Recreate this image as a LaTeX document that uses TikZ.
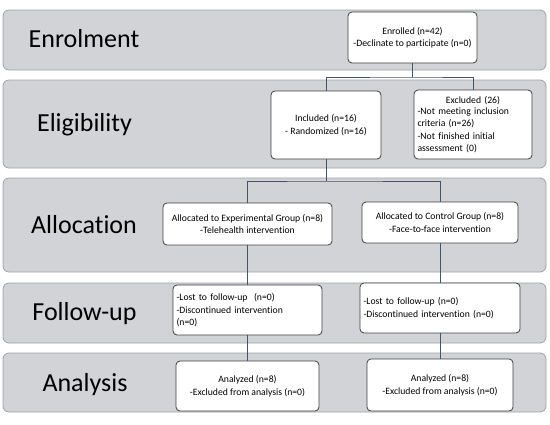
\documentclass[tikz,border=0pt]{standalone}
\usepackage{fontspec}
\setmainfont{Carlito}[Ligatures=NoCommon]
\usepackage{tikz}
\definecolor{palette_bande}{HTML}{D1D3D7}
\definecolor{palette_bord}{HTML}{9EA1A6}
\definecolor{palette_trait}{HTML}{44546A}
\definecolor{palette_boite}{HTML}{3F3F3F}

\begin{document}
\begin{tikzpicture}[x=1pt,y=-1pt,
    band/.style={fill=palette_bande,draw=palette_bord,line width=0.8pt,rounded corners=6pt},
    phase/.style={anchor=base,inner sep=0pt,font=\fontsize{26}{30}\selectfont},
    box/.style={draw=palette_boite,fill=white,line width=0.8pt,rounded corners=4pt,
        inner sep=2pt,font=\fontsize{9.7}{11.5}\selectfont},
    link/.style={draw=palette_trait,line width=0.9pt}]
    \useasboundingbox (0,0) rectangle (550,424);
    
    \draw[band] (3,10) rectangle (546,70);
    \draw[band] (3,80) rectangle (546,168);
    \draw[band] (3,178) rectangle (546,272);
    \draw[band] (3,283) rectangle (546,343);
    \draw[band] (3,353) rectangle (546,412);
    
    \node[phase] (enrolment) at (84,47) {Enrolment};
    \node[phase] (eligibility) at (84.5,131) {Eligibility};
    \node[phase] (allocation) at (84,233) {Allocation};
    \node[phase] (followup) at (84.5,320) {Follow-up};
    \node[phase] (analysis) at (85,391) {Analysis};
    
    \node[box,minimum width=129pt,minimum height=51pt,align=center] (enrolled) at (412.5,37.5)
        {Enrolled (n=42)\\[1pt]-Declinate to participate (n=0)};
    \node[box,minimum width=110pt,minimum height=68pt,align=center] (included) at (326,125)
        {Included (n=16)\\[1pt]- Randomized (n=16)};
    \node[box,minimum width=118pt,minimum height=69pt,text width=111pt] (excluded) at (473,124.5)
        {\centering Excluded (26)\par\raggedright -Not meeting inclusion\\criteria (n=26)\\[2pt]-Not finished initial\\assessment (0)};
    
    \node[box,minimum width=169pt,minimum height=42pt,align=center] (alloc_exp) at (247.5,224)
        {Allocated to Experimental Group (n=8)\\[1pt]-Telehealth intervention};
    \node[box,minimum width=156pt,minimum height=41pt,align=center] (alloc_ctrl) at (440,222.5)
        {Allocated to Control Group (n=8)\\[1pt]-Face-to-face intervention};
    
    \node[box,minimum width=149pt,minimum height=50pt,text width=142pt,align=left] (follow_exp) at (247.5,310)
        {-Lost to follow-up~~(n=0)\\[2pt]-Discontinued intervention\\(n=0)};
    \node[box,minimum width=160pt,minimum height=50pt,text width=153pt,align=left] (follow_ctrl) at (440,308)
        {-Lost to follow-up (n=0)\\[2pt]-Discontinued intervention (n=0)};
    
    \node[box,minimum width=143pt,minimum height=50pt,align=center] (analysed_exp) at (247.5,386)
        {Analyzed (n=8)\\[2pt]-Excluded from analysis (n=0)};
    \node[box,minimum width=146pt,minimum height=52pt,align=center] (analysed_ctrl) at (440,385)
        {Analyzed (n=8)\\[2pt]-Excluded from analysis (n=0)};
    
    \coordinate (split_enrol) at (412.5,77);
    \coordinate (split_incl) at (326,181);
    \draw[link] (enrolled) -- (split_enrol);
    \draw[link] (included.north) |- (split_enrol) -| (excluded.north);
    \draw[link] (included) -- (split_incl);
    \draw[link] (alloc_exp.north) |- (split_incl) -| (alloc_ctrl.north);
    \draw[link] (alloc_exp) -- (follow_exp);
    \draw[link] (follow_exp) -- (analysed_exp);
    \draw[link] (alloc_ctrl) -- (follow_ctrl);
    \draw[link] (follow_ctrl) -- (analysed_ctrl);
    
\end{tikzpicture}
\end{document}
